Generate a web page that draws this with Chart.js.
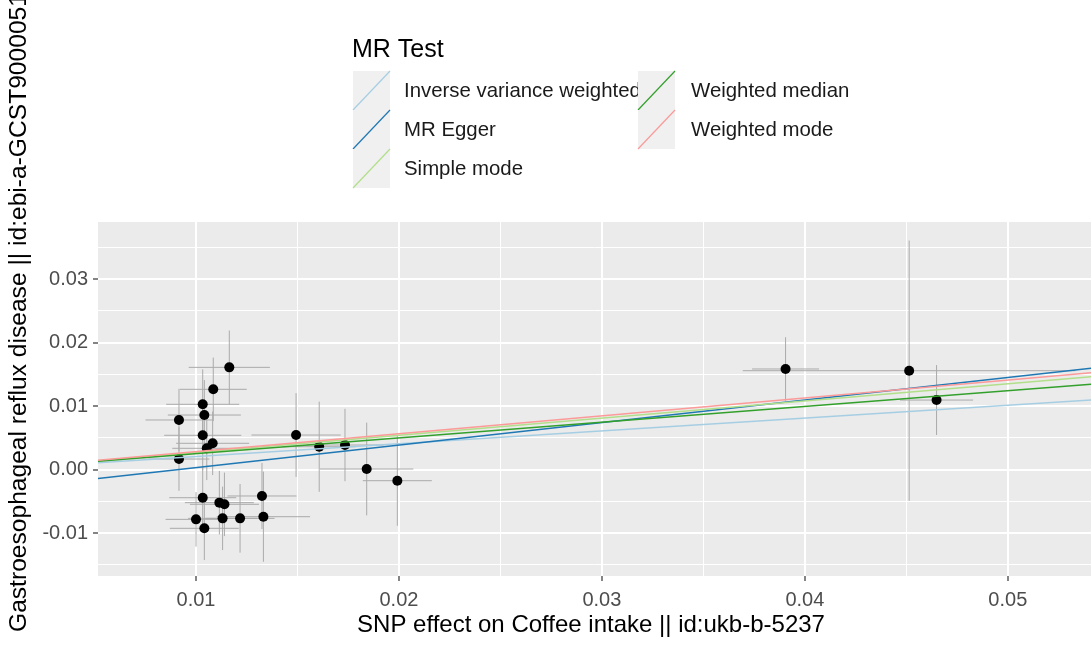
<!DOCTYPE html>
<html>
<head>
<meta charset="utf-8">
<script src="https://cdn.jsdelivr.net/npm/chart.js@4.4.1/dist/chart.umd.min.js"></script>
<style>
  html, body { margin: 0; padding: 0; background: #ffffff; overflow: hidden; }
  #wrap { width: 1091px; height: 653px; position: relative; }
</style>
</head>
<body>
<div id="wrap"><canvas id="c" width="1091" height="653"></canvas></div>
<script>
// SNP effects on the exposure (x) and outcome (y), with their standard errors
const snpX = [0.01164, 0.01085, 0.01033, 0.01041, 0.00916, 0.01033, 0.01082, 0.01053, 0.00916,
              0.01033, 0.01115, 0.01140, 0.01325, 0.01000, 0.01131, 0.01217, 0.01332, 0.01041,
              0.01493, 0.01607, 0.01734, 0.01841, 0.01992, 0.03905, 0.04514, 0.04649];
const snpY = [0.01609, 0.01263, 0.01027, 0.00858, 0.00780, 0.00539, 0.00413, 0.00334, 0.00165,
              -0.00444, -0.00522, -0.00548, -0.00417, -0.00785, -0.00769, -0.00769, -0.00743, -0.00926,
              0.00543, 0.00359, 0.00386, 0.00008, -0.00176, 0.01583, 0.01556, 0.01094];
const seX  = [0.0020, 0.00165, 0.0018, 0.0018, 0.00165, 0.0019, 0.0018, 0.0017, 0.0015,
              0.00165, 0.0017, 0.0017, 0.0017, 0.0015, 0.0017, 0.0017, 0.0023, 0.0017,
              0.0022, 0.0018, 0.0019, 0.0023, 0.0017, 0.00165, 0.0082, 0.0018];
const seY  = [0.0058, 0.0050, 0.0055, 0.0055, 0.0049, 0.0055, 0.0050, 0.0050, 0.0050,
              0.0050, 0.0050, 0.0050, 0.0052, 0.0043, 0.0050, 0.0054, 0.0071, 0.0050,
              0.0066, 0.0071, 0.0057, 0.0073, 0.0071, 0.0050, 0.0205, 0.0055];

// MR method estimates (slope = causal estimate, intercept only for MR Egger)
const methods      = ['Inverse variance weighted', 'MR Egger', 'Simple mode', 'Weighted median', 'Weighted mode'];
const slopes       = [0.2022, 0.3549, 0.2700, 0.2480, 0.2817];
const intercepts   = [0, -0.00326, 0, 0, 0];
const methodColors = ['#a6cee3', '#1f78b4', '#b2df8a', '#33a02c', '#fb9a99'];

// Axis ticks and ranges
const xTicks = [0.01, 0.02, 0.03, 0.04, 0.05];
const yTicks = [-0.01, 0.00, 0.01, 0.02, 0.03];
const xRange = [0.00517, 0.0541];
const yRange = [-0.01677, 0.03898];

const xTitle = 'SNP effect on Coffee intake || id:ukb-b-5237';
const yTitle = 'Gastroesophageal reflux disease || id:ebi-a-GCST90000514';
const legendTitle = 'MR Test';

const FONT = '"Liberation Sans", Arial, Helvetica, sans-serif';

// major ticks plus ggplot-style minor breaks halfway between them
function withMinor(major, lo, hi) {
  const step = major[1] - major[0];
  const out = [];
  const first = major[0] - step / 2;
  for (let v = first; v <= major[major.length - 1] + step / 2 + 1e-12; v += step / 2) {
    const r = Math.round(v * 1e6) / 1e6;
    if (r >= lo && r <= hi) out.push(r);
  }
  return out;
}
const isMajor = (list, v) => list.some(t => Math.abs(t - v) < 1e-9);

// panel background
const panelBg = {
  id: 'panelBg',
  beforeDraw(chart) {
    const { ctx, chartArea: a } = chart;
    ctx.save();
    ctx.fillStyle = '#ffffff';
    ctx.fillRect(0, 0, chart.width, chart.height);
    ctx.fillStyle = '#ebebeb';
    ctx.fillRect(a.left, a.top, a.right - a.left, a.bottom - a.top);
    ctx.restore();
  }
};

// horizontal and vertical standard-error bars for each SNP
const errorBars = {
  id: 'errorBars',
  beforeDatasetsDraw(chart) {
    const { ctx, chartArea: a, scales: { x, y } } = chart;
    ctx.save();
    ctx.beginPath();
    ctx.rect(a.left, a.top, a.right - a.left, a.bottom - a.top);
    ctx.clip();
    ctx.strokeStyle = '#aaaaaa';
    ctx.lineWidth = 1;
    for (let i = 0; i < snpX.length; i++) {
      const px = x.getPixelForValue(snpX[i]);
      const py = y.getPixelForValue(snpY[i]);
      ctx.beginPath();
      ctx.moveTo(px, y.getPixelForValue(snpY[i] - seY[i]));
      ctx.lineTo(px, y.getPixelForValue(snpY[i] + seY[i]));
      ctx.stroke();
      ctx.beginPath();
      ctx.moveTo(x.getPixelForValue(snpX[i] - seX[i]), py);
      ctx.lineTo(x.getPixelForValue(snpX[i] + seX[i]), py);
      ctx.stroke();
    }
    ctx.restore();
  }
};

// axis titles and the "MR Test" legend
const annotations = {
  id: 'annotations',
  afterDraw(chart) {
    const { ctx } = chart;
    ctx.save();
    ctx.fillStyle = '#000000';

    // x title centred under the panel
    ctx.font = '24px ' + FONT;
    ctx.textAlign = 'center';
    ctx.textBaseline = 'middle';
    ctx.fillText(xTitle, 591, 625);

    // y title, rotated
    ctx.save();
    ctx.translate(19, 632);
    ctx.rotate(-Math.PI / 2);
    ctx.textAlign = 'left';
    ctx.textBaseline = 'middle';
    ctx.font = '24.6px ' + FONT;
    ctx.fillText(yTitle, 0, 0);
    ctx.restore();

    // legend
    ctx.font = '25px ' + FONT;
    ctx.textAlign = 'left';
    ctx.textBaseline = 'alphabetic';
    ctx.fillStyle = '#000000';
    ctx.fillText(legendTitle, 352, 57);

    const keyW = 37, keyH = 39;
    const colKeyX = [353, 638];
    const colTextX = [404, 691];
    const top0 = 71;
    ctx.font = '20.4px ' + FONT;
    methods.forEach((m, i) => {
      const col = i < 3 ? 0 : 1;
      const row = i < 3 ? i : i - 3;
      const kx = colKeyX[col], ky = top0 + row * keyH;
      ctx.fillStyle = '#f0f0f0';
      ctx.fillRect(kx, ky, keyW, keyH);
      ctx.strokeStyle = methodColors[i];
      ctx.lineWidth = 1.2;
      ctx.beginPath();
      ctx.moveTo(kx, ky + keyH);
      ctx.lineTo(kx + keyW, ky);
      ctx.stroke();
      ctx.fillStyle = '#1a1a1a';
      ctx.textBaseline = 'middle';
      ctx.fillText(m, colTextX[col], ky + keyH / 2 + 1);
    });
    ctx.restore();
  }
};

const lineSets = methods.map((m, i) => ({
  type: 'line',
  label: m,
  data: [
    { x: xRange[0], y: intercepts[i] + slopes[i] * xRange[0] },
    { x: xRange[1], y: intercepts[i] + slopes[i] * xRange[1] }
  ],
  borderColor: methodColors[i],
  borderWidth: 1.5,
  pointRadius: 0,
  fill: false,
  order: 5 - i
}));

const pointSet = {
  type: 'scatter',
  label: 'SNPs',
  data: snpX.map((v, i) => ({ x: v, y: snpY[i] })),
  backgroundColor: '#000000',
  borderWidth: 0,
  pointRadius: 5,
  order: 10
};

function axisOptions(major, range, isX) {
  return {
    type: 'linear',
    min: range[0],
    max: range[1],
    afterBuildTicks(scale) {
      scale.ticks = withMinor(major, range[0], range[1]).map(v => ({ value: v }));
    },
    afterFit(scale) {
      if (isX) {
        scale.height = 77;
        scale.paddingLeft = 0;
        scale.paddingRight = 0;
      } else {
        scale.width = 98;
        scale.paddingTop = 0;
        scale.paddingBottom = 0;
      }
    },
    border: { display: false },
    grid: {
      color: '#ffffff',
      lineWidth: c => (c.tick && isMajor(major, c.tick.value)) ? 2 : 1,
      tickColor: c => (c.tick && isMajor(major, c.tick.value)) ? '#333333' : 'rgba(0,0,0,0)',
      tickWidth: 1.2,
      tickLength: 5,
      drawTicks: true
    },
    ticks: {
      autoSkip: false,
      maxRotation: 0,
      minRotation: 0,
      padding: isX ? 7 : 5,
      color: '#4d4d4d',
      font: { family: FONT, size: 20 },
      callback: v => isMajor(major, v) ? v.toFixed(2) : ''
    }
  };
}

new Chart(document.getElementById('c'), {
  data: { datasets: [pointSet, ...lineSets] },
  options: {
    responsive: false,
    animation: false,
    events: [],
    devicePixelRatio: 1,
    layout: { autoPadding: false, padding: { top: 222, right: 0, left: 0, bottom: 0 } },
    plugins: { legend: { display: false }, tooltip: { enabled: false } },
    scales: {
      x: axisOptions(xTicks, xRange, true),
      y: axisOptions(yTicks, yRange, false)
    }
  },
  plugins: [panelBg, errorBars, annotations]
});
</script>
</body>
</html>
